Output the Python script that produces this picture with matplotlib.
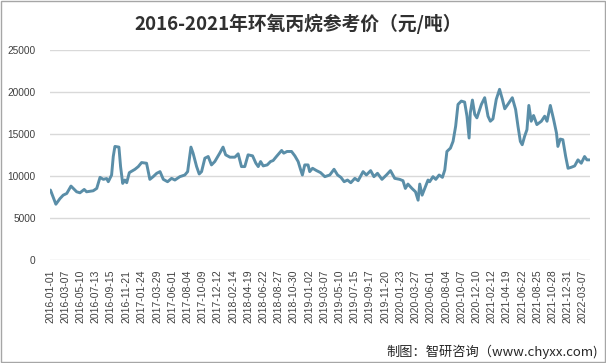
# -*- coding: UTF-8 -*-
# 2016-2021 propylene oxide reference price line chart

import numpy as np
import matplotlib
matplotlib.use('Agg')
import matplotlib.pyplot as plt
from matplotlib.patches import Rectangle


# Data (days counted from 2016-01-01, price in yuan/ton)
start_date = '2016-01-01'
days = [2, 25, 42, 56, 71, 89, 99, 113, 127, 145, 155, 183, 198, 212, 226, 240, 247, 261, 268, 275,
        292, 299, 308, 317, 325, 336, 350, 360, 374, 388, 409, 423, 437, 452, 466, 480, 498, 515,
        529, 550, 571, 583, 597, 606, 621, 632, 642, 656, 670, 684, 698, 719, 733, 744, 762, 783,
        797, 811, 825, 839, 858, 872, 882, 892, 903, 920, 934, 945, 959, 981, 990, 1004, 1023,
        1037, 1051, 1061, 1069, 1079, 1093, 1100, 1112, 1129, 1146, 1164, 1185, 1203, 1218, 1232,
        1246, 1260, 1274, 1291, 1305, 1326, 1340, 1358, 1372, 1387, 1406, 1425, 1442, 1460, 1481,
        1495, 1505, 1516, 1533, 1548, 1559, 1566, 1576, 1587, 1601, 1608, 1622, 1634, 1648, 1662,
        1672, 1681, 1696, 1707, 1718, 1728, 1742, 1756, 1766, 1775, 1780, 1789, 1799, 1808, 1827,
        1841, 1855, 1865, 1876, 1890, 1904, 1916, 1926, 1939, 1958, 1972, 1982, 1992, 2000, 2010,
        2020, 2028, 2038, 2048, 2062, 2081, 2095, 2105, 2119, 2133, 2145, 2151, 2161, 2172, 2184,
        2194, 2208, 2222, 2236, 2250, 2264, 2274, 2285]
prices = [8330, 6640, 7300, 7720, 7920, 8800, 8520, 8120, 8000, 8400, 8120, 8240, 8520, 9840, 9600,
          9700, 9320, 10120, 12320, 13520, 13440, 11120, 9120, 9520, 9200, 10400, 10640, 10800,
          11120, 11600, 11520, 9600, 9920, 10320, 10520, 9600, 9320, 9720, 9520, 9920, 10120, 10520,
          13440, 12720, 11120, 10240, 10520, 12120, 12320, 11320, 11720, 12720, 13440, 12520, 12240,
          12240, 12640, 11120, 11120, 12520, 12400, 11520, 11120, 11720, 11200, 11320, 11720, 11840,
          12320, 13040, 12720, 12920, 12920, 12400, 11720, 10800, 10120, 11320, 11320, 10520, 10920,
          10640, 10400, 9920, 10120, 10800, 10120, 9840, 9320, 9520, 9200, 9720, 9440, 10520, 10120,
          10640, 9920, 10320, 9600, 10120, 10640, 9720, 9600, 9440, 8520, 9040, 8520, 8120, 7120,
          9040, 7720, 8520, 9520, 9320, 9920, 9600, 10120, 9840, 10720, 12920, 13320, 14120, 15920,
          18520, 18920, 18800, 17120, 14520, 17520, 19040, 17320, 16920, 18520, 19320, 17120, 16520,
          16800, 19120, 20320, 19120, 18000, 18520, 19320, 17920, 15920, 14120, 13720, 14720, 15520,
          18400, 16520, 17200, 16120, 16520, 17120, 16520, 18400, 16720, 15120, 13520, 14400, 14320,
          12320, 10920, 11040, 11200, 11920, 11520, 12320, 11920, 11920]
tick_labels = ['2016-01-01', '2016-03-07', '2016-05-10', '2016-07-13', '2016-09-15', '2016-11-21',
               '2017-01-24', '2017-03-29', '2017-06-01', '2017-08-04', '2017-10-09', '2017-12-12',
               '2018-02-14', '2018-04-19', '2018-06-22', '2018-08-27', '2018-10-30', '2019-01-02',
               '2019-03-07', '2019-05-10', '2019-07-15', '2019-09-17', '2019-11-20', '2020-01-23',
               '2020-03-27', '2020-06-01', '2020-08-04', '2020-10-07', '2020-12-10', '2021-02-12',
               '2021-04-19', '2021-06-22', '2021-08-25', '2021-10-28', '2021-12-31', '2022-03-07']
y_ticks = [0, 5000, 10000, 15000, 20000, 25000]

title = '2016-2021年环氧丙烷参考价（元/吨）'
source = '制图：智研咨询（www.chyxx.com)'


# Plot
plt.rcParams['font.family'] = ['Liberation Sans', 'Noto Sans CJK SC']
line_color = '#5A8EA8'
grid_color = '#D9D9D9'

base = np.datetime64(start_date, 'D')
x = base + np.array(days, dtype='timedelta64[D]')
x_ticks = np.array(tick_labels, dtype='datetime64[D]')

fig = plt.figure(figsize=(6.06, 3.63), dpi=100)
ax = fig.add_axes([49.5/606, 1 - 260/363, (590 - 49.5)/606, 210/363])
ax.plot(x, prices, color=line_color, linewidth=2.1, solid_joinstyle='round', solid_capstyle='round')

ax.set_xlim(base - np.timedelta64(2, 'D'), base + np.timedelta64(2287, 'D'))
ax.set_ylim(0, 25000)
ax.set_yticks(y_ticks)
ax.set_yticklabels([str(v) for v in y_ticks], fontsize=7.3, color='#404040')
ax.set_xticks(x_ticks)
ax.set_xticklabels(tick_labels, rotation=90, fontsize=7.5, color='#404040')
ax.tick_params(axis='both', length=0)
ax.tick_params(axis='y', pad=10)
ax.tick_params(axis='x', pad=7)
ax.grid(axis='y', color=grid_color, linewidth=1)
ax.set_axisbelow(True)
for s in ax.spines.values():
    s.set_visible(False)

fig.text(298/606, 1 - 24/363, title, ha='center', va='center', fontsize=13.5, fontweight='bold',
         color='#303030', family=['Noto Sans CJK SC', 'DejaVu Sans'])
fig.text(598/606, 1 - 352/363, source, ha='right', va='center', fontsize=9.5, color='#262626',
         family=['Noto Sans CJK SC', 'DejaVu Sans'])
fig.patches.append(Rectangle((0.001, 0.002), 0.997, 0.996, transform=fig.transFigure, fill=False,
                             edgecolor='#A6A6A6', linewidth=1))

plt.savefig('out.png', dpi=100)
plt.close('all')
